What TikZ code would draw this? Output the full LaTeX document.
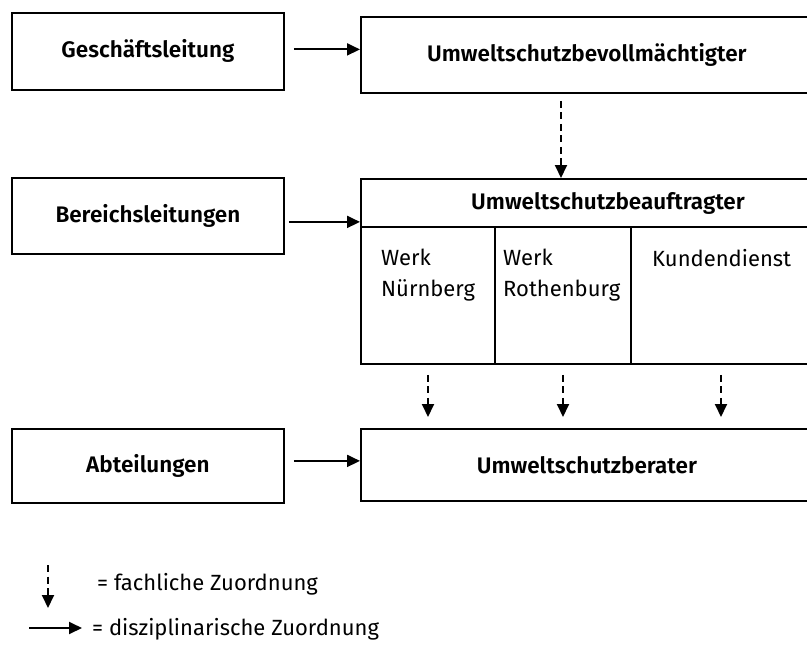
\documentclass[tikz,border=0pt]{standalone}
\usepackage{fontspec}
\setmainfont{Fira Sans}[BoldFont={Fira Sans SemiBold}]
\usetikzlibrary{arrows.meta}
\begin{document}
\begin{tikzpicture}[x=1pt,y=-1pt,
  box/.style={draw, line width=1.8pt, rectangle, inner sep=0pt, anchor=north west},
  title/.style={font=\fontsize{22.5}{27}\selectfont\bfseries},
  plain/.style={font=\fontsize{22}{26}\selectfont},
  disz/.style={line width=1.9pt, -{Triangle[length=13pt,width=12pt]}},
  fach/.style={line width=1.9pt, dash pattern=on 7pt off 4.5pt, -{Triangle[length=13pt,width=12pt]}}
]
\clip (0,0) rectangle (807,651);
\fill[white] (0,0) rectangle (807,651);
% left boxes
\node[box, minimum width=272pt, minimum height=77pt, title] (gl) at (11,12) {Geschäftsleitung};
\node[box, minimum width=272pt, minimum height=76pt, title] (bl) at (11,177) {Bereichsleitungen};
\node[box, minimum width=272pt, minimum height=74pt, title] (ab) at (11,428) {Abteilungen};
% right boxes
\node[box, minimum width=452pt, minimum height=76pt, title] (bv) at (360,16) {Umweltschutzbevollmächtigter};
\node[box, minimum width=452pt, minimum height=185pt] (bu) at (360,178) {};
\node[box, minimum width=452pt, minimum height=72pt, title] (br) at (360,428) {Umweltschutzberater};
% inner structure of Beauftragter
\coordinate (hsep) at (360,227);
\draw[line width=1.8pt] (hsep) -- (hsep -| bu.east);
\coordinate (c1) at (495,227);
\coordinate (c2) at (631,227);
\draw[line width=1.8pt] (c1) -- (c1 |- bu.south);
\draw[line width=1.8pt] (c2) -- (c2 |- bu.south);
\node[title] (buh) at (608,203) {Umweltschutzbeauftragter};
\node[plain, anchor=north west, align=left, inner sep=0pt, font=\fontsize{22}{31}\selectfont] (wn) at (381,249) {Werk\\Nürnberg};
\node[plain, anchor=north west, align=left, inner sep=0pt, font=\fontsize{22}{31}\selectfont] (wr) at (503,249) {Werk\\Rothenburg};
\node[plain, anchor=north west, inner sep=0pt] (kd) at (652,249) {Kundendienst};
% disciplinary arrows
\draw[disz, shorten <=9pt] ([yshift=2pt]gl.east) -- ([yshift=2pt]gl.east -| bv.west);
\draw[disz, shorten <=4pt] ([yshift=-6pt]bl.east) -- ([yshift=-6pt]bl.east -| bu.west);
\draw[disz, shorten <=9pt] ([yshift=5pt]ab.east) -- ([yshift=5pt]ab.east -| br.west);
% technical arrows
\draw[fach, shorten <=7pt] (bv.south -| 561,0) -- (bu.north -| 561,0);
\draw[fach, shorten <=10pt, shorten >=11pt] (bu.south -| 428,0) -- (br.north -| 428,0);
\draw[fach, shorten <=10pt, shorten >=11pt] (bu.south -| 563,0) -- (br.north -| 563,0);
\draw[fach, shorten <=10pt, shorten >=11pt] (bu.south -| 721,0) -- (br.north -| 721,0);
% legend
\coordinate (lf1) at (48,565);
\coordinate (lf2) at (48,608);
\draw[fach] (lf1) -- (lf2);
\node[plain, anchor=west, inner sep=0pt] (lft) at (97,584) {= fachliche Zuordnung};
\coordinate (ld1) at (29,628);
\coordinate (ld2) at (82,628);
\draw[disz] (ld1) -- (ld2);
\node[plain, anchor=west, inner sep=0pt] (ldt) at (92,629) {= disziplinarische Zuordnung};
\end{tikzpicture}
\end{document}
